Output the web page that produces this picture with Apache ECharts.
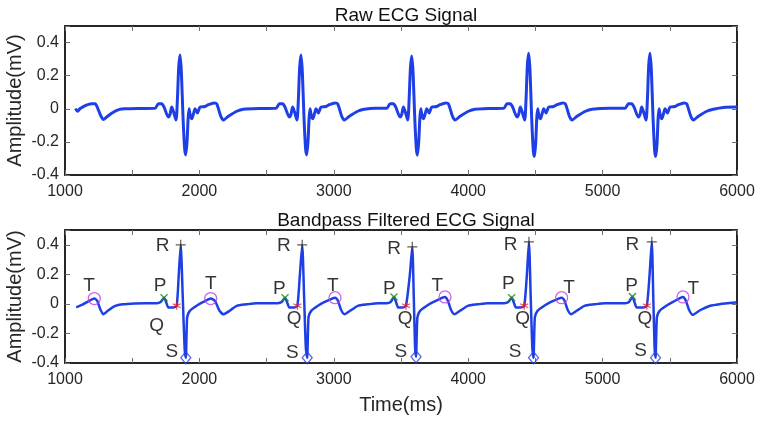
<!DOCTYPE html>
<html>
<head>
<meta charset="utf-8">
<script src="https://cdn.jsdelivr.net/npm/echarts@6/dist/echarts.min.js"></script>
<style>
html,body{margin:0;padding:0;background:#fff;}
#c{width:776px;height:422px;}
</style>
</head>
<body>
<div id="c"></div>
<script>
// ---------- Data ----------
const xTickLabels = [1000, 2000, 3000, 4000, 5000, 6000];
const yTickLabels = [-0.4, -0.2, 0, 0.2, 0.4];

// Raw ECG signal: time (ms) and amplitude (mV)
const rawT = [
  1082,1095,1110,1140,1170,1200,1225,1245,1265,1285,1310,1350,1400,1450,1550,
  1670,1695,1720,1737,1769,1781,1794,1808,1826,1836,1846,1856,1866,1878,1890,1898,1908,1916,1923,1933,1943,1956,1968,1985,2005,2042,2067,2109,2129,2159,2178,2216,2278,2327,
  2450,
  2570,2595,2620,2637,2669,2681,2694,2708,2726,2736,2746,2756,2766,2778,2790,2798,2808,2816,2823,2833,2843,2856,2868,2885,2905,2942,2967,3009,3029,3059,3078,3116,3178,3227,
  3310,
  3394,3419,3444,3461,3493,3505,3518,3532,3550,3560,3570,3580,3590,3602,3614,3622,3632,3640,3647,3657,3667,3680,3692,3709,3729,3766,3791,3833,3853,3883,3902,3940,4002,4051,
  4160,
  4264,4289,4314,4331,4363,4375,4388,4402,4420,4430,4440,4450,4460,4472,4484,4492,4502,4510,4517,4527,4537,4550,4562,4579,4599,4636,4661,4703,4723,4753,4772,4810,4872,4921,
  5050,
  5167,5192,5217,5234,5266,5278,5291,5305,5323,5333,5343,5353,5363,5375,5387,5395,5405,5413,5420,5430,5440,5453,5465,5482,5502,5539,5564,5606,5626,5656,5675,5713,5775,5824,
  5900,5993
];
const rawV = [
  -0.005,-0.015,0.0,0.015,0.025,0.03,0.03,0.0,-0.04,-0.065,-0.05,-0.025,-0.005,0.0,0.002,
  0.003,0.03,0.03,0.01,-0.05,-0.035,0.01,-0.02,-0.068,0.05,0.25,0.325,0.22,-0.05,-0.24,-0.279,-0.2,-0.06,0.0,-0.045,-0.06,-0.03,0.0,-0.025,0.01,0.014,0.025,0.035,0.03,-0.045,-0.068,-0.045,-0.015,-0.003,
  0.002,
  0.003,0.03,0.03,0.01,-0.05,-0.035,0.01,-0.02,-0.068,0.05,0.25,0.325,0.22,-0.05,-0.24,-0.279,-0.2,-0.06,0.0,-0.045,-0.06,-0.03,0.0,-0.025,0.01,0.014,0.025,0.035,0.03,-0.045,-0.068,-0.045,-0.015,-0.003,
  0.003,
  0.003,0.03,0.03,0.01,-0.05,-0.035,0.01,-0.02,-0.068,0.05,0.245,0.319,0.215,-0.05,-0.24,-0.28,-0.2,-0.06,0.0,-0.045,-0.06,-0.03,0.0,-0.025,0.01,0.014,0.025,0.035,0.03,-0.045,-0.068,-0.045,-0.015,-0.003,
  0.002,
  0.003,0.03,0.03,0.01,-0.05,-0.035,0.01,-0.02,-0.068,0.05,0.26,0.335,0.23,-0.05,-0.25,-0.289,-0.21,-0.06,0.0,-0.045,-0.06,-0.03,0.0,-0.025,0.01,0.014,0.025,0.035,0.03,-0.045,-0.068,-0.045,-0.015,-0.003,
  0.003,
  0.003,0.03,0.03,0.01,-0.05,-0.035,0.01,-0.02,-0.068,0.05,0.26,0.335,0.23,-0.05,-0.25,-0.289,-0.21,-0.06,0.0,-0.045,-0.06,-0.03,0.0,-0.025,0.01,0.014,0.025,0.035,0.03,-0.045,-0.068,-0.045,-0.015,-0.003,
  0.008,0.01
];

// Bandpass filtered ECG signal
const filtT = [
  1090,1130,1170,1218,1240,1260,1285,1320,1370,1430,1520,1600,
  1682,1712,1737,1752,1769,1806,1831,1846,1861,1876,1890,1899,1909,1929,1979,2029,2084,2116,2149,2178,2228,2278,2352,2426,
  2520,
  2582,2612,2637,2652,2669,2704,2729,2747,2765,2779,2792,2802,2812,2832,2882,2932,3009,3029,3054,3079,3124,3179,3254,3329,
  3393,3423,3448,3463,3480,3512,3537,3565,3584,3595,3605,3612,3622,3642,3692,3742,3827,3847,3872,3897,3942,3997,4072,4147,
  4268,4298,4323,4338,4355,4392,4417,4436,4452,4465,4477,4486,4496,4516,4566,4616,4695,4715,4740,4765,4810,4865,4940,5015,
  5167,5197,5222,5237,5254,5304,5329,5349,5366,5377,5387,5394,5404,5424,5474,5524,5598,5618,5643,5670,5725,5800,5870,5990
];
const filtV = [
  -0.02,-0.005,0.015,0.036,0.02,-0.03,-0.07,-0.045,-0.015,-0.003,0.003,0.005,
  0.005,0.013,0.042,0.013,-0.025,-0.025,-0.013,0.19,0.40,0.05,-0.3,-0.365,-0.09,-0.047,-0.013,0.013,0.036,0.02,-0.045,-0.07,-0.045,-0.013,-0.003,0.005,
  0.004,
  0.005,0.013,0.042,0.013,-0.025,-0.025,-0.013,0.19,0.40,0.05,-0.3,-0.365,-0.09,-0.047,-0.013,0.013,0.042,0.025,-0.04,-0.07,-0.045,-0.013,-0.003,0.005,
  0.005,0.013,0.047,0.013,-0.025,-0.025,-0.013,0.19,0.386,0.05,-0.3,-0.357,-0.09,-0.047,-0.013,0.013,0.047,0.025,-0.04,-0.07,-0.045,-0.013,-0.003,0.005,
  0.005,0.013,0.042,0.013,-0.025,-0.025,-0.013,0.19,0.42,0.05,-0.3,-0.365,-0.09,-0.047,-0.013,0.013,0.042,0.025,-0.04,-0.07,-0.045,-0.013,-0.003,0.005,
  0.005,0.013,0.049,0.013,-0.025,-0.025,-0.013,0.19,0.42,0.05,-0.3,-0.365,-0.09,-0.047,-0.013,0.013,0.047,0.025,-0.04,-0.074,-0.043,-0.013,-0.002,0.009
];

// Detected fiducial points [time, amplitude]
const pPoints = [[1737,0.042],[2637,0.042],[3448,0.047],[4323,0.042],[5222,0.049]];
const qPoints = [[1831,-0.013],[2729,-0.013],[3537,-0.013],[4417,-0.013],[5329,-0.013]];
const rPoints = [[1861,0.40],[2765,0.40],[3584,0.386],[4452,0.42],[5366,0.42]];
const sPoints = [[1899,-0.365],[2802,-0.365],[3612,-0.357],[4486,-0.365],[5394,-0.365]];
const tPoints = [[1218,0.036],[2084,0.036],[3009,0.042],[3827,0.047],[4695,0.042],[5598,0.047]];

// Annotation text anchors [time, amplitude]
const pLabels = [[1707,0.121],[2594,0.099],[3413,0.099],[4298,0.133],[5216,0.121]];
const qLabels = [[1682,-0.148],[2704,-0.103],[3530,-0.103],[4405,-0.103],[5315,-0.103]];
const rLabels = [[1727,0.39],[2629,0.39],[3448,0.372],[4316,0.40],[5221,0.40]];
const sLabels = [[1794,-0.323],[2691,-0.328],[3498,-0.323],[4348,-0.323],[5283,-0.316]];
const tLabels = [[1179,0.125],[2084,0.133],[2992,0.121],[3770,0.121],[4750,0.11],[5675,0.103]];

// ---------- Chart ----------
const FONT = 'Liberation Sans, Arial, Helvetica, sans-serif';
const FRAME = '#262626';
const LINE = '#1f3fe6';
const zip = (a, b) => a.map((t, i) => [t, b[i]]);

function xAx(grid, pos, showLabel, name) {
  return {
    type: 'value', gridIndex: grid, position: pos,
    min: 1000, max: 6000, interval: 500,
    axisLine: {show: true, onZero: false, lineStyle: {color: FRAME, width: 2}},
    axisTick: {show: true, inside: true, length: 5, lineStyle: {color: '#707070', width: 1}},
    axisLabel: {
      show: showLabel, fontSize: 16, color: FRAME, fontFamily: FONT, margin: 9,
      formatter: v => xTickLabels.indexOf(v) >= 0 ? String(v) : ''
    },
    splitLine: {show: false},
    name: name || '', nameLocation: 'middle', nameGap: 32, nameMoveOverlap: false,
    nameTextStyle: {fontSize: 20, color: FRAME, fontFamily: FONT}
  };
}
function yAx(grid, pos, showLabel) {
  return {
    type: 'value', gridIndex: grid, position: pos,
    min: -0.4, max: 0.5, interval: 0.2,
    axisLine: {show: true, onZero: false, lineStyle: {color: FRAME, width: 2}},
    axisTick: {show: true, inside: true, length: 5, lineStyle: {color: '#707070', width: 1}},
    axisLabel: {
      show: showLabel, fontSize: 16, color: FRAME, fontFamily: FONT, margin: 6,
      formatter: v => {
        const r = Math.round(v * 10) / 10;
        return yTickLabels.indexOf(r) >= 0 ? String(r) : '';
      }
    },
    splitLine: {show: false},
    name: showLabel ? 'Amplitude(mV)' : '', nameLocation: 'middle', nameGap: 40, nameMoveOverlap: false,
    nameTextStyle: {fontSize: 20, color: FRAME, fontFamily: FONT}
  };
}
function labelSeries(data, txt) {
  return {
    type: 'scatter', xAxisIndex: 1, yAxisIndex: 1, data: data,
    symbol: 'circle', symbolSize: 1, itemStyle: {color: 'rgba(0,0,0,0)'},
    label: {show: true, position: 'inside', formatter: txt, fontSize: 19, color: '#000', fontFamily: FONT},
    silent: true, z: 6
  };
}
function markSeries(data, symbol, size, color, bw) {
  return {
    type: 'scatter', xAxisIndex: 1, yAxisIndex: 1, data: data,
    symbol: symbol, symbolSize: size,
    itemStyle: {color: 'none', borderColor: color, borderWidth: bw},
    silent: true, z: 5
  };
}

const chart = echarts.init(document.getElementById('c'), null, {renderer: 'canvas'});
chart.setOption({
  animation: false,
  backgroundColor: '#fff',
  title: [
    {text: 'Raw ECG Signal', left: 401, top: 1, textAlign: 'center',
     textStyle: {fontSize: 19, fontWeight: 'normal', color: '#111', fontFamily: FONT}},
    {text: 'Bandpass Filtered ECG Signal', left: 401, top: 206, textAlign: 'center',
     textStyle: {fontSize: 19, fontWeight: 'normal', color: '#111', fontFamily: FONT}}
  ],
  grid: [
    {left: 65, right: 39, top: 26, height: 149, outerBoundsMode: 'none', containLabel: false},
    {left: 65, right: 39, top: 230, height: 133, outerBoundsMode: 'none', containLabel: false}
  ],
  xAxis: [
    xAx(0, 'bottom', true), xAx(1, 'bottom', true, 'Time(ms)'),
    xAx(0, 'top', false), xAx(1, 'top', false)
  ],
  yAxis: [
    yAx(0, 'left', true), yAx(1, 'left', true),
    yAx(0, 'right', false), yAx(1, 'right', false)
  ],
  series: [
    {type: 'line', xAxisIndex: 0, yAxisIndex: 0, data: zip(rawT, rawV), showSymbol: false,
     smooth: 0.25, lineStyle: {color: LINE, width: 3, join: 'round', cap: 'round'}, z: 3},
    {type: 'line', xAxisIndex: 1, yAxisIndex: 1, data: zip(filtT, filtV), showSymbol: false,
     smooth: 0.2, lineStyle: {color: LINE, width: 2.5, join: 'round', cap: 'round'}, z: 3},
    markSeries(rPoints, 'path://M0,-1L0,1M-1,0L1,0', 10, '#333', 1.2),
    markSeries(pPoints, 'path://M-1,-1L1,1M-1,1L1,-1', 7, '#1e8c2a', 1.5),
    markSeries(qPoints, 'path://M0,-1L0,1M-0.87,-0.5L0.87,0.5M-0.87,0.5L0.87,-0.5', 8, '#e8202a', 1.2),
    markSeries(sPoints, 'diamond', [10, 12], '#2a40e6', 1.3),
    markSeries(tPoints, 'circle', 12, '#c040e0', 1.3),
    labelSeries(pLabels, 'P'),
    labelSeries(qLabels, 'Q'),
    labelSeries(rLabels, 'R'),
    labelSeries(sLabels, 'S'),
    labelSeries(tLabels, 'T')
  ]
});
</script>
</body>
</html>
